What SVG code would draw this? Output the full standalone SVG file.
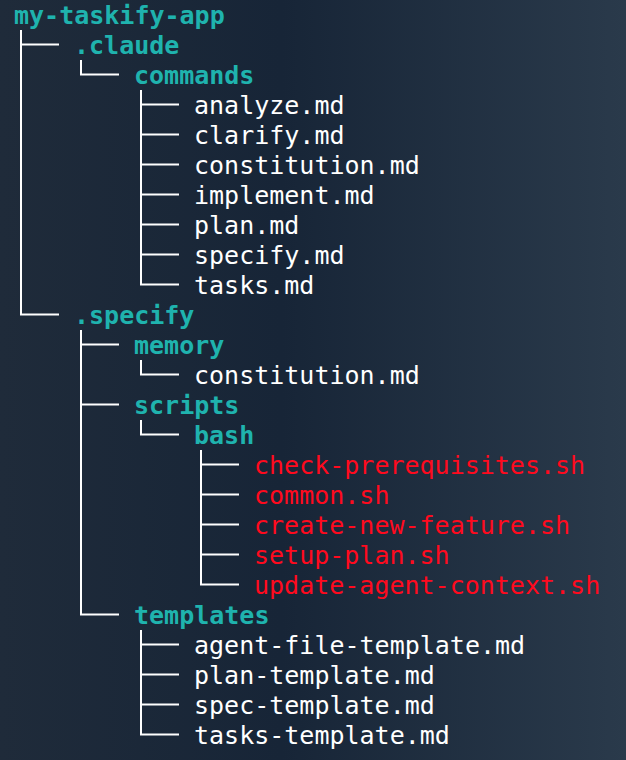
<svg xmlns="http://www.w3.org/2000/svg" width="626" height="760" viewBox="0 0 626 760">
<defs>
<linearGradient id="bg" x1="0" y1="0" x2="1" y2="0">
<stop offset="0" stop-color="#1f2b3a"/>
<stop offset="0.45" stop-color="#172537"/>
<stop offset="1" stop-color="#2a3a4b"/>
</linearGradient>
<style>
text{font-family:"DejaVu Sans Mono","Liberation Mono",monospace;font-size:25px;}
.dir{fill:#1fb3ae;font-weight:bold;}
.file{fill:#ffffff;}
.sh{fill:#ff0a1e;}
.ln{fill:none;stroke:#ffffff;stroke-width:2;stroke-linejoin:miter;}
</style>
</defs>
<rect width="626" height="760" fill="url(#bg)"/>
<g id="connectors">
<path class="ln" d="M21 30V314.5H59M21 44.5H59"/>
<path class="ln" d="M81 60V74.5H119"/>
<path class="ln" d="M141 90V284.5H179M141 104.5H179M141 134.5H179M141 164.5H179M141 194.5H179M141 224.5H179M141 254.5H179"/>
<path class="ln" d="M81 330V614.5H119M81 344.5H119M81 404.5H119"/>
<path class="ln" d="M141 360V374.5H179"/>
<path class="ln" d="M141 420V434.5H179"/>
<path class="ln" d="M201 450V584.5H239M201 464.5H239M201 494.5H239M201 524.5H239M201 554.5H239"/>
<path class="ln" d="M141 630V734.5H179M141 644.5H179M141 674.5H179M141 704.5H179"/>
</g>
<g id="n-root"><text class="dir" x="14" y="23.5">my-taskify-app</text></g>
<g id="n-claude"><text class="dir" x="74" y="53.5">.claude</text></g>
<g id="n-commands"><text class="dir" x="134" y="83.5">commands</text></g>
<g id="n-analyze"><text class="file" x="194" y="113.5">analyze.md</text></g>
<g id="n-clarify"><text class="file" x="194" y="143.5">clarify.md</text></g>
<g id="n-constitution"><text class="file" x="194" y="173.5">constitution.md</text></g>
<g id="n-implement"><text class="file" x="194" y="203.5">implement.md</text></g>
<g id="n-plan"><text class="file" x="194" y="233.5">plan.md</text></g>
<g id="n-specify-md"><text class="file" x="194" y="263.5">specify.md</text></g>
<g id="n-tasks"><text class="file" x="194" y="293.5">tasks.md</text></g>
<g id="n-specify"><text class="dir" x="74" y="323.5">.specify</text></g>
<g id="n-memory"><text class="dir" x="134" y="353.5">memory</text></g>
<g id="n-mem-constitution"><text class="file" x="194" y="383.5">constitution.md</text></g>
<g id="n-scripts"><text class="dir" x="134" y="413.5">scripts</text></g>
<g id="n-bash"><text class="dir" x="194" y="443.5">bash</text></g>
<g id="n-check"><text class="sh" x="254" y="473.5">check-prerequisites.sh</text></g>
<g id="n-common"><text class="sh" x="254" y="503.5">common.sh</text></g>
<g id="n-create"><text class="sh" x="254" y="533.5">create-new-feature.sh</text></g>
<g id="n-setup"><text class="sh" x="254" y="563.5">setup-plan.sh</text></g>
<g id="n-update"><text class="sh" x="254" y="593.5">update-agent-context.sh</text></g>
<g id="n-templates"><text class="dir" x="134" y="623.5">templates</text></g>
<g id="n-agent"><text class="file" x="194" y="653.5">agent-file-template.md</text></g>
<g id="n-plan-t"><text class="file" x="194" y="683.5">plan-template.md</text></g>
<g id="n-spec-t"><text class="file" x="194" y="713.5">spec-template.md</text></g>
<g id="n-tasks-t"><text class="file" x="194" y="743.5">tasks-template.md</text></g>
</svg>
